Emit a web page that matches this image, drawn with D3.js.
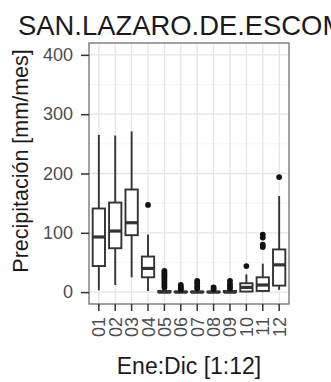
<!DOCTYPE html>
<html>
<head>
<meta charset="utf-8">
<script src="https://cdn.jsdelivr.net/npm/d3@7"></script>
<style>
  body { margin: 0; background: #fff; }
  svg { display: block; font-family: "Liberation Sans", Arial, sans-serif; }
</style>
</head>
<body>
<div id="container"></div>
<script>
//-----------------------------DATA------------------------------//
var months = ["01", "02", "03", "04", "05", "06", "07", "08", "09", "10", "11", "12"];
var whiskerLow  = [3, 12, 25, 2, 0, 0, 0, 0, 0, 0, 0, 4];
var q1          = [44, 74, 96, 25, 0, 0, 0, 0, 0, 1, 2, 11];
var medians     = [93, 103, 117, 40, 0, 0, 0, 0, 0, 8, 12, 46];
var q3          = [141, 151, 173, 60, 2, 1, 1, 1, 2, 15, 25, 72];
var whiskerHigh = [265, 264, 271, 97, 5, 2, 3, 2, 4, 30, 48, 162];
var outliers = [
  [], [], [], [147],
  [36, 33, 30, 27, 24, 20, 16, 12, 8],
  [12, 9, 6, 4],
  [19, 15, 10, 6],
  [8, 5],
  [19, 14, 10, 6],
  [44],
  [97, 92, 80, 76],
  [194]
];
var yTicks = [0, 100, 200, 300, 400];
var yMinor = [50, 150, 250, 350];

// set the dimensions of the canvas/graph
var width = 331;
var height = 382;
var panel = {left: 89, right: 289, top: 43, bottom: 304};

var svg = d3.select("div#container").append("svg")
    .attr("width", width)
    .attr("height", height);

//----------------------------SCALES-----------------------------//
var xScale = d3.scaleBand()
    .domain(months)
    .range([panel.left, panel.right])
    .paddingOuter(0.1);

var yScale = d3.scaleLinear()
    .domain([-20, 420])
    .range([panel.bottom, panel.top]);

var boxW = xScale.step() * 0.75;
function cx(d) { return xScale(d) + xScale.bandwidth() / 2; }

//----------------------------GRID-------------------------------//
svg.append("rect")
    .attr("x", panel.left).attr("y", panel.top)
    .attr("width", panel.right - panel.left)
    .attr("height", panel.bottom - panel.top)
    .style("fill", "#fff");

svg.selectAll("minor").data(yMinor).enter().append("line")
    .attr("x1", panel.left).attr("x2", panel.right)
    .attr("y1", d => yScale(d)).attr("y2", d => yScale(d))
    .style("stroke", "#f3f3f3").style("stroke-width", 0.8);

svg.selectAll("major").data(yTicks).enter().append("line")
    .attr("x1", panel.left).attr("x2", panel.right)
    .attr("y1", d => yScale(d)).attr("y2", d => yScale(d))
    .style("stroke", "#e4e4e4").style("stroke-width", 1.3);

svg.selectAll("vgrid").data(months).enter().append("line")
    .attr("x1", d => cx(d)).attr("x2", d => cx(d))
    .attr("y1", panel.top).attr("y2", panel.bottom)
    .style("stroke", "#e4e4e4").style("stroke-width", 1.3);

//----------------------------BOXES------------------------------//
var boxes = svg.selectAll("boxes")
    .data(months)
    .enter()
    .append("g");

boxes.append("line")
    .attr("x1", d => cx(d)).attr("x2", d => cx(d))
    .attr("y1", (d, i) => yScale(whiskerLow[i]))
    .attr("y2", (d, i) => yScale(whiskerHigh[i]))
    .style("stroke", "#333").style("stroke-width", 1.9);

boxes.append("rect")
    .attr("x", d => cx(d) - boxW / 2)
    .attr("width", boxW)
    .attr("y", (d, i) => yScale(q3[i]))
    .attr("height", (d, i) => Math.max(yScale(q1[i]) - yScale(q3[i]), 0.5))
    .style("fill", "#fff")
    .style("stroke", "#333").style("stroke-width", 1.9);

boxes.append("line")
    .attr("x1", d => cx(d) - boxW / 2).attr("x2", d => cx(d) + boxW / 2)
    .attr("y1", (d, i) => yScale(medians[i]))
    .attr("y2", (d, i) => yScale(medians[i]))
    .style("stroke", "#333").style("stroke-width", 3.2);

boxes.each(function(d, i) {
  d3.select(this).selectAll("circle")
    .data(outliers[i])
    .enter()
    .append("circle")
    .attr("cx", cx(d))
    .attr("cy", v => yScale(v))
    .attr("r", 2.9)
    .style("fill", "#111");
});

// panel border
svg.append("rect")
    .attr("x", panel.left).attr("y", panel.top)
    .attr("width", panel.right - panel.left)
    .attr("height", panel.bottom - panel.top)
    .style("fill", "none")
    .style("stroke", "#7a7a7a").style("stroke-width", 1.4);

//-----------------------------AXES------------------------------//
var yaxis = d3.axisLeft(yScale)
    .tickValues(yTicks)
    .tickSize(8)
    .tickPadding(8);

var xaxis = d3.axisBottom(xScale)
    .tickSize(7)
    .tickPadding(6);

var gy = svg.append("g")
    .attr("transform", "translate(" + panel.left + ",0)")
    .call(yaxis);

var gx = svg.append("g")
    .attr("transform", "translate(0," + panel.bottom + ")")
    .call(xaxis);

[gx, gy].forEach(function(g) {
  g.select(".domain").remove();
  g.selectAll(".tick line").style("stroke", "#333").style("stroke-width", 1.5);
  g.selectAll(".tick text")
    .style("font-size", "18px")
    .style("fill", "#4d4d4d")
    .style("font-family", "Liberation Sans, Arial, sans-serif");
});

gx.selectAll(".tick text")
    .attr("transform", "rotate(-90)")
    .attr("x", -13)
    .attr("y", 0)
    .attr("dy", "0.36em")
    .style("text-anchor", "end");

//----------------------------TITLES-----------------------------//
svg.append("text")
    .attr("x", 18)
    .attr("y", 35)
    .text("SAN.LAZARO.DE.ESCOM")
    .style("font-size", "27.4px")
    .style("fill", "#1a1a1a");

svg.append("text")
    .attr("transform", "rotate(-90)")
    .attr("x", -161)
    .attr("y", 28)
    .style("text-anchor", "middle")
    .style("font-size", "21.5px")
    .style("fill", "#1a1a1a")
    .text("Precipitación [mm/mes]");

svg.append("text")
    .attr("x", (panel.left + panel.right) / 2)
    .attr("y", 374)
    .style("text-anchor", "middle")
    .style("font-size", "23px")
    .style("fill", "#1a1a1a")
    .text("Ene:Dic [1:12]");
</script>
</body>
</html>
